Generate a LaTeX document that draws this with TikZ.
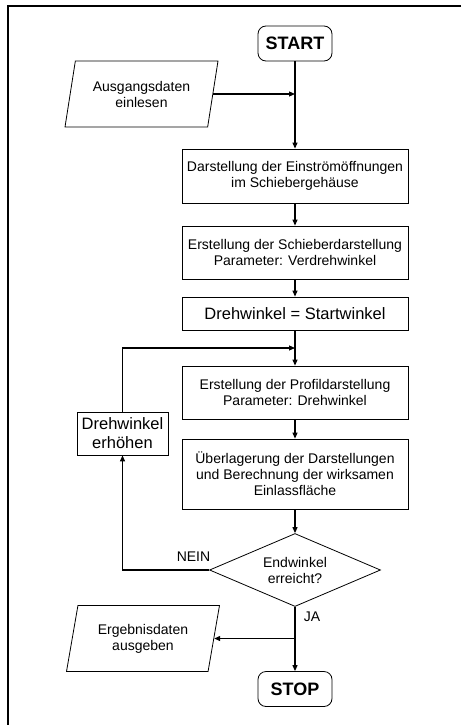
\documentclass[tikz,border=0pt]{standalone}
\usepackage{fontspec}
\setmainfont{Liberation Sans}
\usetikzlibrary{shapes.geometric,arrows.meta}
\begin{document}
\begin{tikzpicture}[x=1pt,y=-1pt,
  txt/.style={font=\fontsize{14}{16}\selectfont},
  box/.style={draw,line width=0.8pt,minimum width=226pt,align=center,inner sep=0pt,txt},
  term/.style={draw,line width=0.8pt,rounded corners=8pt,minimum width=74pt,minimum height=35pt,inner sep=0pt,font=\bfseries\fontsize{18}{20}\selectfont},
  io/.style={draw,line width=0.8pt,trapezium,trapezium left angle=68.5,trapezium right angle=111.5,trapezium stretches body,minimum width=153pt,minimum height=66pt,inner sep=0pt,align=center,txt},
  dec/.style={draw,line width=0.8pt,diamond,aspect=2.3,minimum width=171pt,minimum height=73pt,inner sep=0pt,align=center,txt},
  arr/.style={line width=1.1pt,-{Triangle[length=6pt,width=5pt]}},
  lbl/.style={inner sep=0pt,txt}]
\useasboundingbox (0,0) rectangle (461,725);
\draw[line width=2pt] (461,5.8) -- (7.8,5.8) -- (7.8,726);
\node[term] (start) at (295,43.5) {START};
\node[io] (in) at (141.5,94) {Ausgangsdaten\\einlesen};
\node[box,minimum height=54pt] (b1) at (295,176) {Darstellung der Einströmöffnungen\\im Schiebergehäuse};
\node[box,minimum height=53pt] (b2) at (295,252.5) {Erstellung der Schieberdarstellung\\Parameter: Verdrehwinkel};
\node[box,minimum height=33pt,font=\fontsize{16.5}{19}\selectfont] (b3) at (295,313.5) {Drehwinkel = Startwinkel};
\node[box,minimum height=53pt] (b4) at (295,392.5) {Erstellung der Profildarstellung\\Parameter: Drehwinkel};
\node[box,minimum height=70pt] (b5) at (295,474) {Überlagerung der Darstellungen\\und Berechnung der wirksamen\\Einlassfläche};
\node[dec] (d) at (295,570) {Endwinkel\\erreicht?};
\node[draw,line width=0.8pt,minimum width=91pt,minimum height=43pt,inner sep=0pt,align=center,font=\fontsize{16.5}{19}\selectfont] (inc) at (122.5,433.5) {Drehwinkel\\erhöhen};
\node[io] (out) at (143,638.5) {Ergebnisdaten\\ausgeben};
\node[term] (stop) at (295,689) {STOP};
\node[lbl] (nein) at (193.5,557) {NEIN};
\node[lbl] (ja) at (312,617) {JA};
\coordinate (j) at (295,348);
\draw[arr] (start) -- (b1);
\draw[arr] (in.east) -- (in.east -| start.south);
\draw[arr] (b1) -- (b2);
\draw[arr] (b2) -- (b3);
\draw[arr] (b3) -- (b4);
\draw[arr] (b4) -- (b5);
\draw[arr] (b5) -- (d);
\draw[arr] (d.west) -| (inc.south);
\draw[arr] (inc.north) |- (j);
\draw[arr] (d.south) -- (stop.north);
\draw[arr] (out.east -| d.south) -- (out.east);
\end{tikzpicture}
\end{document}
